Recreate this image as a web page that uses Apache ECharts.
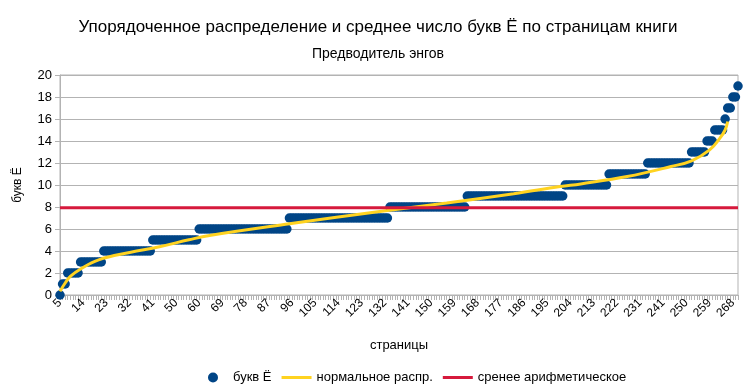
<!DOCTYPE html>
<html><head><meta charset="utf-8">
<script src="https://cdn.jsdelivr.net/npm/echarts@6/dist/echarts.min.js"></script>
<style>html,body{margin:0;padding:0;background:#fff}#c{width:756px;height:390px}</style>
</head><body><div id="c"></div>
<script>
// Pages shown on the x axis (categories): first/last page, pages absent from the list
const firstPage = 5;
const lastPage = 270;
const missingPages = [55, 236];
// Sorted letter counts: each level and how many pages have it
const levels = [0, 1, 2, 3, 4, 5, 6, 7, 8, 9, 10, 11, 12, 13, 14, 15, 16, 17, 18, 19];
const counts = [1, 2, 5, 9, 19, 18, 35, 39, 30, 38, 17, 15, 17, 6, 3, 4, 1, 2, 2, 1];
// "normal distribution" curve (position index, value)
const normIdx = [0, 2, 4, 8, 15, 27, 39, 50, 58, 89, 124, 150, 176, 194, 202, 220, 237, 245, 252, 256, 258, 259];
const normVal = [0.33, 1.09, 1.69, 2.36, 3.2, 3.87, 4.41, 5.02, 5.41, 6.47, 7.6, 8.36, 9.2, 9.86, 10.1, 10.77, 11.68, 12.2, 13.2, 14.26, 15.0, 15.77];
// arithmetic mean
const meanValue = 7.93;
const yTicks = [0, 2, 4, 6, 8, 10, 12, 14, 16, 18, 20];

const categories = [];
for (let p = firstPage; p <= lastPage; p++) if (missingPages.indexOf(p) < 0) categories.push(String(p));
const values = [];
levels.forEach((v, i) => { for (let k = 0; k < counts[i]; k++) values.push(v); });
const lastIdx = categories.length - 1;
const normData = normIdx.map((x, i) => [x, normVal[i]]);
const meanData = [[0, meanValue], [lastIdx, meanValue]];

const chart = echarts.init(document.getElementById('c'), null, {renderer: 'canvas'});
const font = '"Liberation Sans", Arial, sans-serif';
const lineIcon = 'path://M0,0H30V3H0Z';
chart.setOption({
  animation: false,
  backgroundColor: '#fff',
  title: [
    {text: 'Упорядоченное распределение и среднее число букв Ё по страницам книги', left: 'center', top: 14,
     textStyle: {fontFamily: '"Liberation Sans Narrow", "Liberation Sans", sans-serif', fontSize: 17, fontWeight: 'normal', color: '#000'}},
    {text: 'Предводитель энгов', left: 'center', top: 42,
     textStyle: {fontFamily: '"Liberation Sans Narrow", "Liberation Sans", sans-serif', fontSize: 14, fontWeight: 'normal', color: '#000'}}
  ],
  legend: {
    left: 203, top: 366, itemWidth: 30, itemHeight: 10, itemGap: 10,
    textStyle: {fontFamily: font, fontSize: 13, color: '#000'},
    data: [
      {name: 'букв Ё', icon: 'circle'},
      {name: 'нормальное распр.', icon: lineIcon},
      {name: 'сренее арифметическое', icon: lineIcon}
    ]
  },
  grid: {left: 60, right: 18, top: 75, bottom: 95, show: true, borderColor: '#b3b3b3', borderWidth: 1},
  xAxis: [
    {type: 'category', data: categories, boundaryGap: false,
     name: 'страницы', nameLocation: 'middle', nameGap: 44,
     nameTextStyle: {fontFamily: font, fontSize: 13, color: '#000'},
     axisLine: {lineStyle: {color: '#b3b3b3'}},
     axisTick: {show: true, interval: 0, length: 5, lineStyle: {color: '#b3b3b3'}},
     axisLabel: {interval: 8, rotate: 45, margin: 6, fontFamily: font, fontSize: 12, color: '#000'},
     splitLine: {show: false}},
    {type: 'value', min: 0, max: lastIdx, show: false}
  ],
  yAxis: {type: 'value', min: yTicks[0], max: yTicks[yTicks.length - 1], interval: 2,
    name: 'букв Ё', nameLocation: 'middle', nameGap: 36, nameRotate: 90,
    nameTextStyle: {fontFamily: font, fontSize: 12, color: '#000'},
    axisLine: {show: true, lineStyle: {color: '#b3b3b3'}},
    axisTick: {show: true, length: 5, lineStyle: {color: '#b3b3b3'}},
    axisLabel: {fontFamily: font, fontSize: 13, color: '#000', margin: 8},
    splitLine: {lineStyle: {color: '#b3b3b3'}}},
  series: [
    {name: 'букв Ё', type: 'scatter', xAxisIndex: 0, data: values, symbol: 'circle', symbolSize: 9.5,
     itemStyle: {color: '#004586', opacity: 1}},
    {name: 'нормальное распр.', type: 'line', xAxisIndex: 1, data: normData, smooth: 0.4, symbol: 'none',
     lineStyle: {color: '#ffd320', width: 3}, itemStyle: {color: '#ffd320'}},
    {name: 'сренее арифметическое', type: 'line', xAxisIndex: 1, data: meanData, symbol: 'none',
     lineStyle: {color: '#d6193c', width: 3}, itemStyle: {color: '#d6193c'}}
  ]
});
</script></body></html>
